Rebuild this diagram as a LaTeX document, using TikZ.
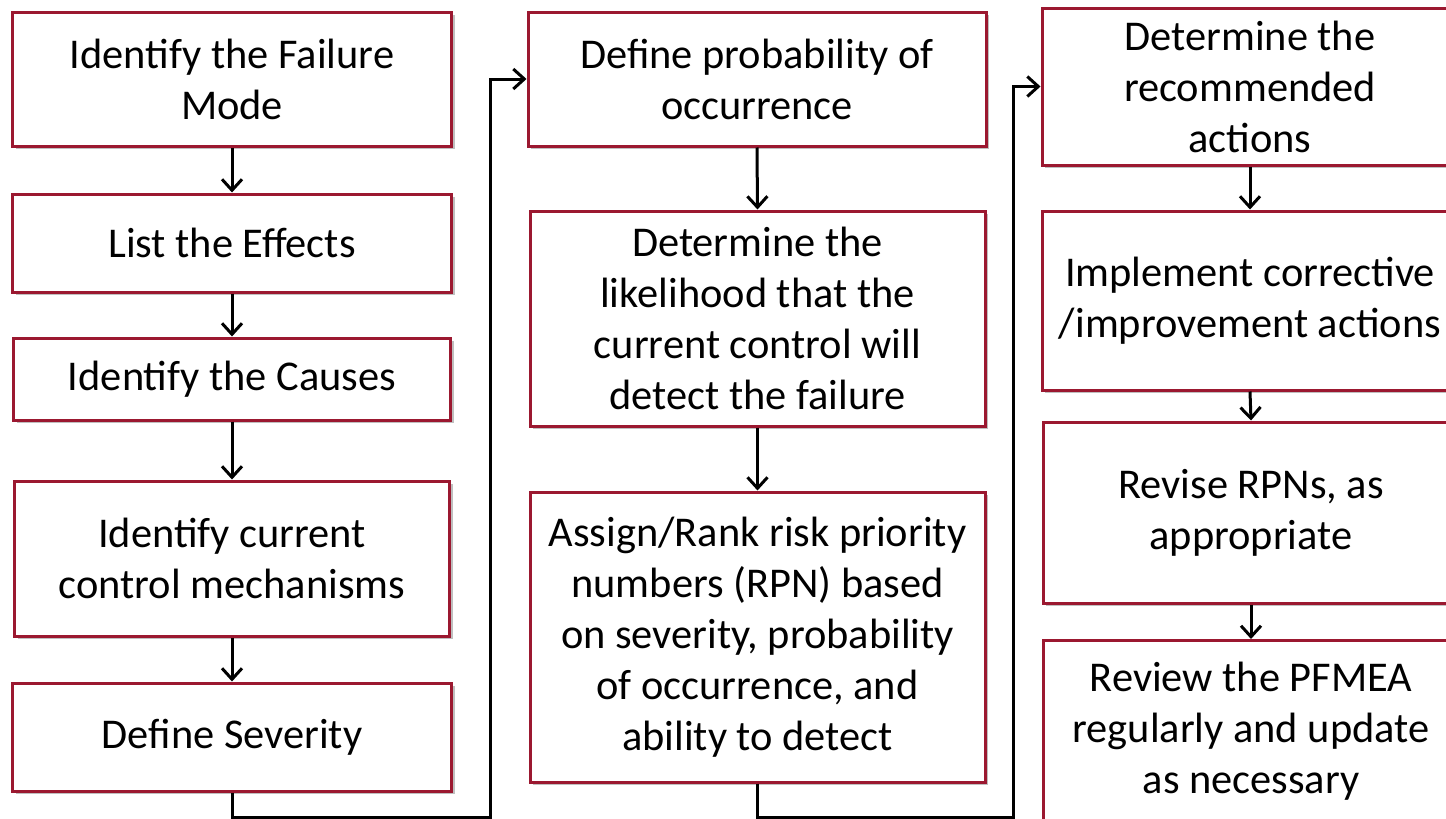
\documentclass[tikz,border=0pt]{standalone}
\usepackage{fontspec}
\setmainfont{Carlito}
\usetikzlibrary{arrows.meta,shadows}
\definecolor{boxred}{RGB}{155,24,48}
\tikzset{
  stepbox/.style={draw=boxred, line width=1.5pt, fill=white, align=center,
    font=\fontsize{21.2pt}{25.5pt}\selectfont, inner sep=0pt,
    drop shadow={shadow xshift=1.5pt, shadow yshift=-1.5pt, opacity=0.25, fill=black}},
  conn/.style={line width=1.5pt, -{Straight Barb[length=5.5pt,width=10pt,line width=1.5pt]}}
}
\begin{document}
\begin{tikzpicture}[x=0.5pt,y=-0.5pt]
\clip (0,0) rectangle (1446,819);
\fill[white] (0,0) rectangle (1446,819);
% column 1
\node[stepbox, minimum width=219.5pt, minimum height=67pt] (b1) at (232,79) {Identify the Failure\\Mode};
\node[stepbox, minimum width=219.5pt, minimum height=49pt] (b2) at (232,243) {List the Effects};
\node[stepbox, minimum width=218.5pt, minimum height=41pt] (b3) at (232,379) {Identify the Causes};
\node[stepbox, minimum width=217.5pt, minimum height=77.5pt] (b4) at (232,558.5) {Identify current\\control mechanisms};
\node[stepbox, minimum width=219.5pt, minimum height=54pt] (b5) at (232,737) {Define Severity};
% column 2
\node[stepbox, minimum width=229pt, minimum height=67pt] (b6) at (757,79) {Define probability of\\occurrence};
\node[stepbox, minimum width=227.5pt, minimum height=107.5pt] (b7) at (757.5,318.5) {Determine the\\likelihood that the\\current control will\\detect the failure};
\node[stepbox, minimum width=227.5pt, minimum height=145pt] (b8) at (757.5,637) {Assign/Rank risk priority\\numbers (RPN) based\\on severity, probability\\of occurrence, and\\ability to detect};
% column 3
\node[stepbox, minimum width=208pt, minimum height=78.5pt] (b9) at (1250,86.5) {Determine the\\recommended\\actions};
\node[stepbox, minimum width=208pt, minimum height=89.5pt] (b10) at (1250,300.5) {Implement corrective\\/improvement actions};
\node[stepbox, minimum width=208pt, minimum height=90.5pt] (b11) at (1251,512.5) {Revise RPNs, as\\appropriate};
\node[stepbox, minimum width=208pt, minimum height=91pt] (b12) at (1251,731.5) {Review the PFMEA\\regularly and update\\as necessary};
% connectors
\coordinate (c1) at (490,817);
\coordinate (c2) at (1013,817);
\draw[conn] (b1.south) -- (b2.north);
\draw[conn] (b2.south) -- (b3.north);
\draw[conn] (b3.south) -- (b4.north);
\draw[conn] (b4.south) -- (b5.north);
\draw[conn] (b5.south) |- (c1) |- (b6.west);
\draw[conn] (b6.south) -- (b7.north);
\draw[conn] (b7.south) -- (b8.north);
\draw[conn] (b8.south) |- (c2) |- (b9.west);
\draw[conn] (b9.south) -- (b10.north);
\draw[conn] (b10.south) -- (b11.north);
\draw[conn] (b11.south) -- (b12.north);
\end{tikzpicture}
\end{document}
